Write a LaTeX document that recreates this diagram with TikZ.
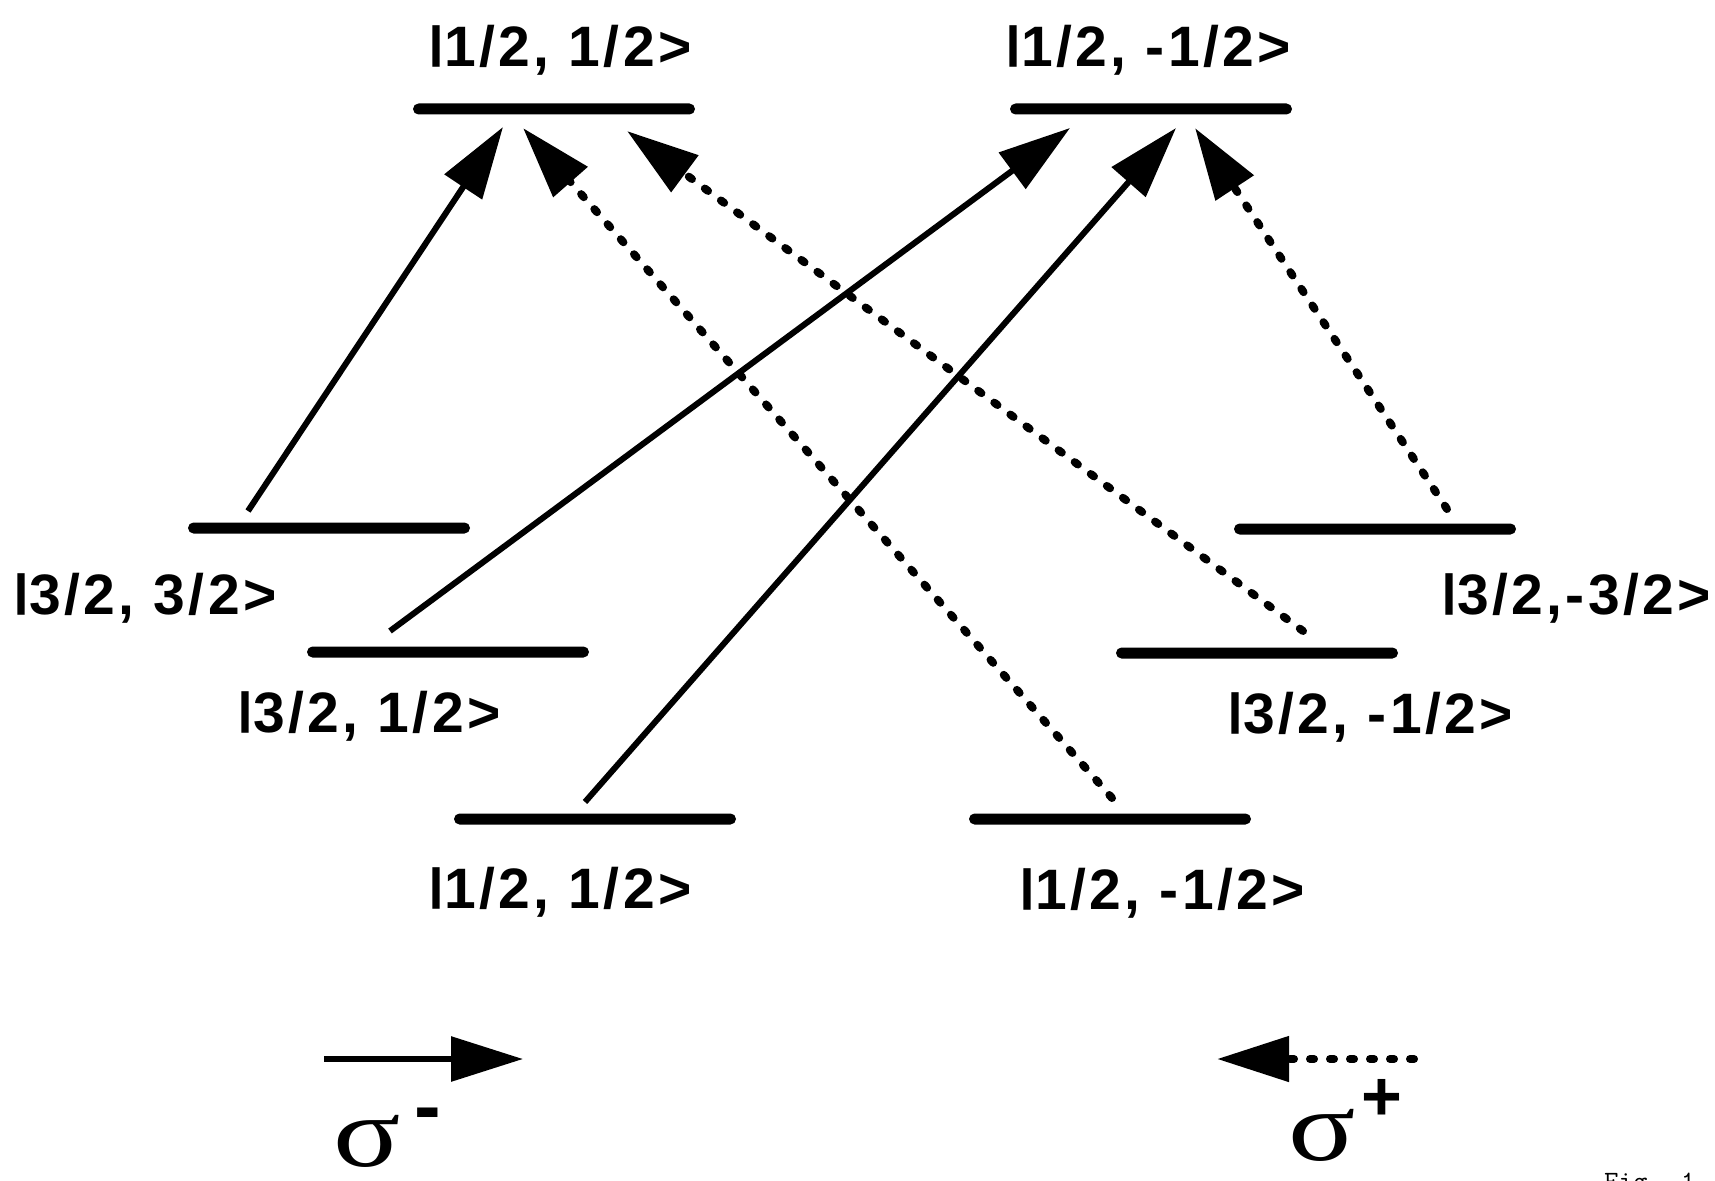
\documentclass[tikz,border=0pt]{standalone}
\usepackage{fontspec}
\setmainfont{Liberation Sans}
\newfontfamily\serifsym{Liberation Serif}
\usetikzlibrary{arrows.meta}
\newcommand\kbar{\raisebox{0.16em}{\scalebox{1}[0.77]{|}}}
\newcommand\kettext[1]{{\addfontfeature{LetterSpace=6}\kbar#1}}
\newcommand\widesigma{\scalebox{1.25}[1]{σ}}
\begin{document}
\begin{tikzpicture}[x=1pt,y=-1pt,
  levelbar/.style={fill=black, rounded corners=5.5pt, minimum width=282pt, minimum height=11pt, inner sep=0pt},
  lbl/.style={font=\fontsize{57}{60}\selectfont\bfseries, inner sep=0pt, text height=41pt, text depth=0pt},
  solidarr/.style={line width=6pt, -{Triangle[length=72pt,width=44pt]}},
  dotarr/.style={line width=8pt, line cap=round, dash pattern=on 4pt off 16pt, -{Triangle[length=72pt,width=44pt]}},
  sigmalbl/.style={anchor=base, inner sep=0pt, font=\serifsym\fontsize{100}{110}\selectfont},
]
\useasboundingbox (0,0) rectangle (1715,1180);
% levels
\node[levelbar] (tl) at (554,109) {};
\node[levelbar] (tr) at (1151,109) {};
\node[levelbar] (l1) at (329,528) {};
\node[levelbar] (l2) at (448,652) {};
\node[levelbar] (l3) at (595,819) {};
\node[levelbar] (r3) at (1110,819) {};
\node[levelbar] (r2) at (1257,653) {};
\node[levelbar] (r1) at (1375,529) {};
% labels
\node[lbl] (ttl) at (560,46) {\kettext{1/2, 1/2>}};
\node[lbl] (ttr) at (1148,46) {\kettext{1/2, -1/2>}};
\node[lbl] (tl1) at (145,594) {\kettext{3/2, 3/2>}};
\node[lbl] (tl2) at (369,712) {\kettext{3/2, 1/2>}};
\node[lbl] (tl3) at (560,888) {\kettext{1/2, 1/2>}};
\node[lbl] (tr3) at (1162,889) {\kettext{1/2, -1/2>}};
\node[lbl] (tr2) at (1370,713) {\kettext{3/2, -1/2>}};
\node[lbl] (tr1) at (1576,594) {\kettext{3/2,-3/2>}};
% arrow end points
\coordinate (a1s) at (248,511); \coordinate (a1e) at (503,127);
\coordinate (a2s) at (390,631); \coordinate (a2e) at (1070,128);
\coordinate (a3s) at (585,802); \coordinate (a3e) at (1176,128);
\coordinate (a4s) at (1112,798); \coordinate (a4e) at (523,128);
\coordinate (a5s) at (1303,631); \coordinate (a5e) at (627,131);
\coordinate (a6s) at (1447,509); \coordinate (a6e) at (1195,128);
\draw[solidarr] (a1s) -- (a1e);
\draw[solidarr] (a2s) -- (a2e);
\draw[solidarr] (a3s) -- (a3e);
\draw[dotarr] (a4s) -- (a4e);
\draw[dotarr] (a5s) -- (a5e);
\draw[dotarr] (a6s) -- (a6e);
% legend
\coordinate (ls1) at (324,1059); \coordinate (ls2) at (523,1059);
\coordinate (ld1) at (1414,1059); \coordinate (ld2) at (1217,1059);
\draw[solidarr] (ls1) -- (ls2);
\draw[dotarr] (ld1) -- (ld2);
\node[sigmalbl] (sigm) at (367,1166) {\widesigma};
\node[anchor=base, inner sep=0pt, font=\fontsize{80}{90}\selectfont\bfseries] (supm) at (428,1133) {-};
\node[sigmalbl] (sigp) at (1322,1160) {\widesigma};
\node[anchor=base, inner sep=0pt, font=\fontsize{70}{80}\selectfont\bfseries] (supp) at (1382,1120) {+};
\node[anchor=base west, inner sep=0pt, font=\ttfamily\fontsize{28}{30}\selectfont] (fig) at (1604,1190) {Fig. 1};
\end{tikzpicture}
\end{document}
